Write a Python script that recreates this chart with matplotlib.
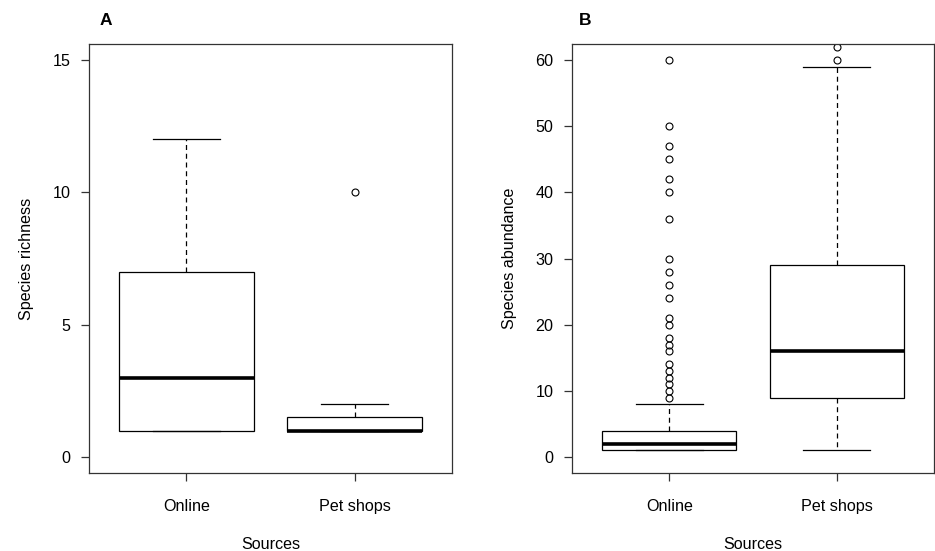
import matplotlib
matplotlib.use('Agg')
import matplotlib.pyplot as plt

plt.rcParams['font.family'] = ['Liberation Sans', 'DejaVu Sans']

sources = ['Online', 'Pet shops']

# A: species richness (box stats)
rich_low  = [1, 1]
rich_q1   = [1, 1]
rich_med  = [3, 1]
rich_q3   = [7, 1.5]
rich_high = [12, 2]
rich_out  = [[], [10]]
rich_ticks = [0, 5, 10, 15]

# B: species abundance
abun_low  = [1, 1]
abun_q1   = [1, 9]
abun_med  = [2, 16]
abun_q3   = [4, 29]
abun_high = [8, 59]
abun_out  = [[9, 10, 11, 12, 13, 14, 16, 17, 18, 20, 21, 24, 26, 28, 30,
              36, 40, 42, 45, 47, 50, 60],
             [60, 62]]
abun_ticks = [0, 10, 20, 30, 40, 50, 60]

LW = 0.9
FS = 11.6


def panel(ax, low, q1, med, q3, high, out, ticks, ylabel, letter, letter_x):
    stats = []
    for i in range(len(sources)):
        stats.append(dict(whislo=low[i], q1=q1[i], med=med[i], q3=q3[i],
                          whishi=high[i], fliers=out[i], label=sources[i]))
    ax.bxp(stats, positions=[1, 2], widths=0.8, capwidths=0.4,
           patch_artist=True, showfliers=True,
           boxprops=dict(facecolor='white', edgecolor='black', linewidth=LW),
           medianprops=dict(color='black', linewidth=2.6, solid_capstyle='butt'),
           whiskerprops=dict(color='black', linewidth=LW, linestyle=(0, (4, 3))),
           capprops=dict(color='black', linewidth=LW),
           flierprops=dict(marker='o', markerfacecolor='none',
                           markeredgecolor='black', markersize=5,
                           markeredgewidth=0.8))
    lo, hi = ticks[0], ticks[-1]
    pad = (hi - lo) * 0.04
    ax.set_ylim(lo - pad, hi + pad)
    ax.set_xlim(0.42, 2.58)
    ax.set_yticks(ticks)
    ax.set_xticks([1, 2], sources)
    for s in ax.spines.values():
        s.set_linewidth(LW)
        s.set_color('#333333')
    ax.tick_params(axis='both', direction='out', length=6, width=LW,
                   color='#333333', labelsize=FS)
    ax.tick_params(axis='x', pad=12.5)
    ax.tick_params(axis='y', pad=7.5)
    ax.set_xlabel('Sources', fontsize=FS, labelpad=17)
    ax.set_ylabel(ylabel, fontsize=FS, labelpad=13)
    ax.text(letter_x, 1.056, letter, transform=ax.transAxes, fontsize=12.5,
            fontweight='bold', ha='left', va='center')


fig = plt.figure(figsize=(9.35, 5.51), dpi=100)
ax1 = fig.add_axes([0.0952, 0.1416, 0.3882, 0.7785])
ax2 = fig.add_axes([0.6118, 0.1416, 0.3870, 0.7785])

panel(ax1, rich_low, rich_q1, rich_med, rich_q3, rich_high, rich_out,
      rich_ticks, 'Species richness', 'A', 0.030)
panel(ax2, abun_low, abun_q1, abun_med, abun_q3, abun_high, abun_out,
      abun_ticks, 'Species abundance', 'B', 0.019)

fig.savefig('out.png', dpi=100)
